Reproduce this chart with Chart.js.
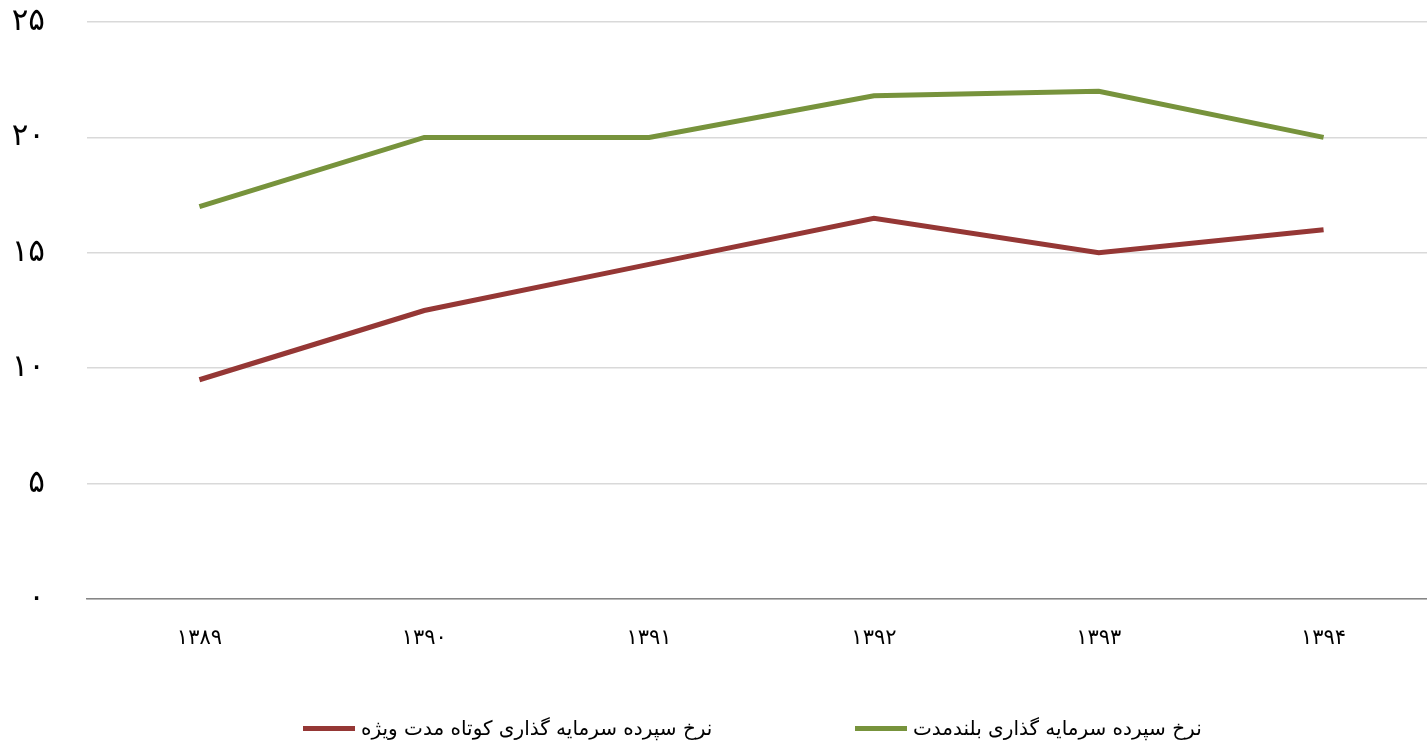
<!DOCTYPE html>
<html>
<head>
<meta charset="utf-8">
<script src="https://cdn.jsdelivr.net/npm/chart.js@4"></script>
<style>
  html, body { margin: 0; padding: 0; background: #fff; overflow: hidden; }
  #wrap { position: relative; width: 1436px; height: 747px; }
  .legend-item { position: absolute; top: 714px; height: 28px; display: flex; align-items: center;
                 font-family: "DejaVu Sans", sans-serif; font-size: 20px; color: #000; white-space: nowrap; }
  .legend-item .swatch { width: 52px; height: 5px; margin-right: 6px; }
</style>
</head>
<body>
<div id="wrap">
  <canvas id="rateChart"></canvas>
  <div id="legend"></div>
</div>
<script>
// years (Persian digits) on the x axis
var years = ['۱۳۸۹', '۱۳۹۰', '۱۳۹۱', '۱۳۹۲', '۱۳۹۳', '۱۳۹۴'];
// short-term special deposit rate
var shortTermRate = [9.5, 12.5, 14.5, 16.5, 15, 16];
// long-term deposit rate
var longTermRate = [17, 20, 20, 21.8, 22, 20];
// y tick labels, one per 5 units
var yTickLabels = ['۰', '۵', '۱۰', '۱۵', '۲۰', '۲۵'];

var seriesNames = ['نرخ سپرده سرمایه گذاری کوتاه مدت ویژه', 'نرخ سپرده سرمایه گذاری بلندمدت'];
var seriesColors = ['#953735', '#77933C'];

var fontFamily = '"DejaVu Sans", sans-serif';

var ctx = document.getElementById('rateChart').getContext('2d');
var rateChart = new Chart(ctx, {
    type: 'line',
    data: {
        labels: years,
        datasets: [{
            label: seriesNames[0],
            data: shortTermRate,
            borderColor: seriesColors[0],
            backgroundColor: seriesColors[0],
            borderWidth: 5,
            pointRadius: 0,
            tension: 0
        }, {
            label: seriesNames[1],
            data: longTermRate,
            borderColor: seriesColors[1],
            backgroundColor: seriesColors[1],
            borderWidth: 5,
            pointRadius: 0,
            tension: 0
        }]
    },
    options: {
        responsive: true,
        maintainAspectRatio: false,
        animation: false,
        layout: { padding: { top: 22, right: 0, left: 0, bottom: 0 } },
        plugins: {
            tooltip: { enabled: false },
            legend: { display: false }
        },
        scales: {
            x: {
                offset: true,
                afterFit: function (scale) { scale.height = 148; },
                grid: { display: false, drawTicks: false },
                border: { display: true, color: '#868686', width: 1.5 },
                ticks: {
                    color: '#000',
                    padding: 27,
                    font: { family: fontFamily, size: 21 }
                }
            },
            y: {
                min: 0,
                max: 25,
                afterFit: function (scale) {
                    scale.width = 87;
                    scale.paddingTop = 0;
                    scale.paddingBottom = 0;
                },
                grid: { color: '#d9d9d9', lineWidth: 1.5, drawTicks: false },
                border: { display: false },
                ticks: {
                    stepSize: 5,
                    padding: 42,
                    color: '#000',
                    font: { family: fontFamily, size: 31 },
                    callback: function (value) { return yTickLabels[value / 5]; }
                }
            }
        }
    }
});

// simple html legend, line swatch left of each name
var legendLefts = [303, 855];
var legendEl = document.getElementById('legend');
seriesNames.forEach(function (name, i) {
    var item = document.createElement('div');
    item.className = 'legend-item';
    item.style.left = legendLefts[i] + 'px';
    var sw = document.createElement('span');
    sw.className = 'swatch';
    sw.style.background = seriesColors[i];
    var txt = document.createElement('span');
    txt.textContent = name;
    item.appendChild(sw);
    item.appendChild(txt);
    legendEl.appendChild(item);
});
</script>
</body>
</html>
